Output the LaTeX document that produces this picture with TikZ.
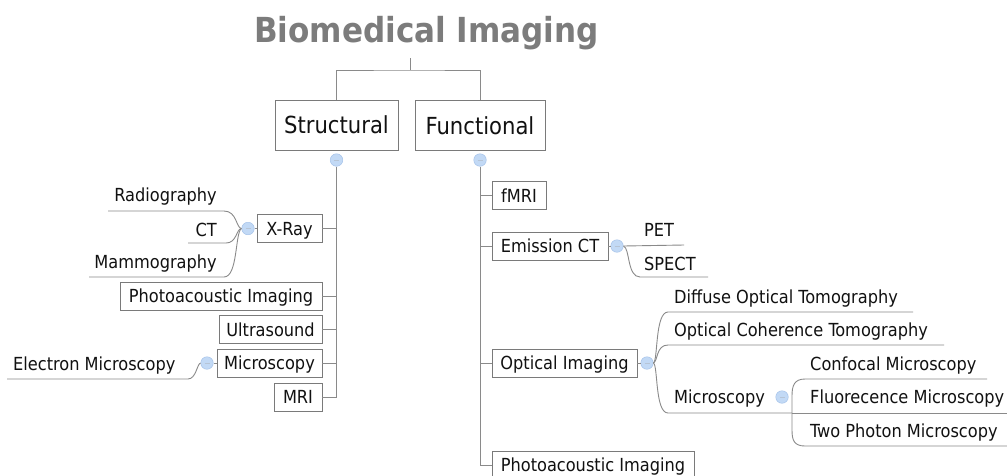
\documentclass[tikz,border=0pt]{standalone}
\usepackage{fontspec}
\setmainfont{DejaVu Sans Condensed}
\definecolor{ln}{HTML}{8A8A8A}
\definecolor{bx}{HTML}{7A7A7A}
\definecolor{tx}{HTML}{111111}
\definecolor{ttl}{HTML}{7C7C7C}
\definecolor{mk}{HTML}{C2D9F5}
\definecolor{mkd}{HTML}{A6C3EA}
\newcommand\fsn{\fontsize{18}{20}\selectfont}
\newcommand\fbg{\fontsize{23.5}{26}\selectfont}
\newcommand\fttl{\fontsize{34.5}{38}\selectfont\bfseries}
\tikzset{
  conn/.style={draw=ln, line width=0.9pt},
  box/.style={draw=bx, line width=0.9pt, fill=white, text=tx, inner sep=0pt,
    font=\fsn, minimum height=28pt, text height=17pt, text depth=4pt},
  bigbox/.style={box, font=\fbg, minimum height=50pt, text height=22pt, text depth=5pt},
  lbl/.style={text=tx, inner sep=0pt, font=\fsn},
  colmark/.style={circle, fill=mk, draw=mkd, line width=0.5pt, minimum size=12.5pt, inner sep=0pt,
    path picture={\draw[mkd!80!black!60, line width=0.8pt]
      ([xshift=-2.5pt]path picture bounding box.center) -- ([xshift=2.5pt]path picture bounding box.center);}},
}
\begin{document}
\begin{tikzpicture}[x=1pt,y=-1pt]
\clip (0,0) rectangle (1007,475);
\fill[white] (0,0) rectangle (1007,475);

% title
\node[font=\fttl, text=ttl, anchor=base, inner sep=0pt] (title) at (426.5,42) {Biomedical Imaging};
\coordinate (hub) at (410,58);

% main boxes
\node[bigbox, minimum width=123pt] (structural) at (336.5,125) {Structural};
\node[bigbox, minimum width=130pt] (functional) at (480,125.5) {Functional};
\draw[conn] (hub) -- ++(0,12) coordinate (hj);
\draw[conn] (structural.north) |- (hj) -| (functional.north);

% markers under main boxes
\node[colmark] (ms) at (336.5,160) {};
\node[colmark] (mf) at (480,160) {};

% left (structural) boxes
\node[box, minimum width=65pt]  (xray)   at (289.5,228.5) {X-Ray};
\node[box, minimum width=202pt] (pa1)    at (221,296) {Photoacoustic Imaging};
\node[box, minimum width=103pt] (us)     at (270.5,329.5) {Ultrasound};
\node[box, minimum width=105pt] (micro1) at (269.5,363) {Microscopy};
\node[box, minimum width=48pt]  (mri1)   at (298,397) {MRI};

\draw[conn] (ms.south) |- (mri1.east);
\foreach \b in {xray,pa1,us,micro1}{
  \draw[conn] (\b.east) -- (\b.east -| ms.south);
}

% right (functional) boxes
\node[box, minimum width=54pt]  (fmri) at (519,195.5) {fMRI};
\node[box, minimum width=116pt] (ect)  at (550,246) {Emission CT};
\node[box, minimum width=145pt] (opt)  at (564.5,363) {Optical Imaging};
\node[box, minimum width=202pt] (pa2)  at (593,465) {Photoacoustic Imaging};

\draw[conn] (mf.south) |- (pa2.west);
\foreach \b in {fmri,ect,opt}{
  \draw[conn] (\b.west) -- (\b.west -| mf.south);
}

% X-Ray children
\node[colmark] (mx) at (248,228.5) {};
\draw[conn] (mx.east) -- (xray.west);
\node[lbl, anchor=base east] (radio) at (217,201.5) {Radiography};
\node[lbl, anchor=base east] (ct)    at (217,236) {CT};
\node[lbl, anchor=base east] (mammo) at (217,268) {Mammography};
\coordinate (ux1) at (108,211);
\coordinate (ux2) at (188,243);
\coordinate (ux3) at (89,277);
\draw[conn] (mx.west) .. controls (236,228) and (237,211) .. (224,211) -- (ux1);
\draw[conn] (mx.west) .. controls (236,229) and (237,243) .. (226,243) -- (ux2);
\draw[conn] (mx.west) .. controls (235,232) and (238,277) .. (224,277) -- (ux3);

% Microscopy (structural) child
\node[colmark] (mm) at (207,363) {};
\draw[conn] (mm.east) -- (micro1.west);
\node[lbl, anchor=base west] (electron) at (13,370.5) {Electron Microscopy};
\coordinate (ue) at (7,379);
\draw[conn] (mm.west) .. controls (197,364) and (196,379) .. (188,379) -- (ue);

% Emission CT children
\node[colmark] (me) at (617,246) {};
\draw[conn] (ect.east) -- (me.west);
\node[lbl, anchor=base west] (pet)   at (644,236) {PET};
\node[lbl, anchor=base west] (spect) at (644,270) {SPECT};
\coordinate (up1) at (684,245);
\coordinate (up2) at (708,277);
\draw[conn] (me.east) -- (up1);
\draw[conn] (me.east) .. controls (630,248) and (627,277) .. (640,277) -- (up2);

% Optical Imaging children
\node[colmark] (mo) at (647,363) {};
\draw[conn] (opt.east) -- (mo.west);
\node[lbl, anchor=base west] (dot)  at (674,303) {Diffuse Optical Tomography};
\node[lbl, anchor=base west] (oct)  at (674,336) {Optical Coherence Tomography};
\node[lbl, anchor=base west] (omic) at (674,403) {Microscopy};
\coordinate (uo1) at (913,312);
\coordinate (uo2) at (944,345);
\coordinate (uo3) at (792,413);
\draw[conn] (mo.east) .. controls (658,360) and (655,312) .. (668,312) -- (uo1);
\draw[conn] (mo.east) .. controls (658,361) and (656,345) .. (668,345) -- (uo2);
\draw[conn] (mo.east) .. controls (658,366) and (655,413) .. (668,413) -- (uo3);

% Microscopy (optical) children
\node[colmark] (mo2) at (782,397) {};
\node[lbl, anchor=base west] (conf)  at (810,370) {Confocal Microscopy};
\node[lbl, anchor=base west] (fluo)  at (810,403) {Fluorecence Microscopy};
\node[lbl, anchor=base west] (twop)  at (810,437) {Two Photon Microscopy};
\coordinate (uc1) at (987,379);
\coordinate (uc2) at (1007,413);
\coordinate (uc3) at (1007,446);
\draw[conn] (uo3) -- (uc2);
\draw[conn] (uc1) -- (805,379) .. controls (794,379) and (792,386) .. (792,396) -- (792,430)
  .. controls (792,440) and (794,446) .. (805,446) -- (uc3);
\end{tikzpicture}
\end{document}
